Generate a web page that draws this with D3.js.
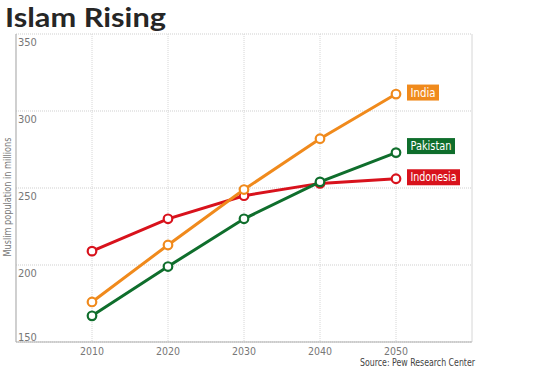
<!DOCTYPE html>
<html><head><meta charset="utf-8">
<script src="https://cdn.jsdelivr.net/npm/d3@7"></script>
<style>body{margin:0;background:#fff}svg{display:block}</style>
</head><body>
<script>
const years = [2010, 2020, 2030, 2040, 2050];
const india = [176, 213, 249, 282, 311];
const pakistan = [167, 199, 230, 254, 273];
const indonesia = [209, 230, 245, 253, 256];
const yTicks = [150, 200, 250, 300, 350];
const seriesNames = ["India", "Pakistan", "Indonesia"];
const seriesColors = ["#f08a1c", "#0f6e2c", "#d8121c"];

(function () {
const W = 553, H = 369;
const svg = d3.select("body").append("svg").attr("width", W).attr("height", H);
const pL = 16, pR = 472, pT = 34, pB = 342;
const x = d3.scaleLinear().domain([2000, 2060]).range([pL, pR]);
const y = d3.scaleLinear().domain([150, 350]).range([pB, pT]);
const font = "'DejaVu Sans Condensed','DejaVu Sans',sans-serif";

svg.append("text").attr("x", 5).attr("y", 27).text("Islam Rising")
  .attr("textLength", 161).attr("lengthAdjust", "spacingAndGlyphs")
  .attr("font-family", "Lato,sans-serif").attr("font-weight", 700)
  .attr("font-size", 27).attr("fill", "#262626");

// grid
const g = svg.append("g");
g.selectAll(".hg").data(yTicks).enter().append("line")
  .attr("x1", pL).attr("x2", pR).attr("y1", d => y(d)).attr("y2", d => y(d))
  .attr("stroke", "#cfcfcf").attr("stroke-dasharray", "1,1");
g.selectAll(".vg").data(years.concat([2060])).enter().append("line")
  .attr("x1", d => x(d)).attr("x2", d => x(d)).attr("y1", pT).attr("y2", pB)
  .attr("stroke", "#d6d6d6").attr("stroke-dasharray", d => d === 2060 ? null : "1,1");
g.append("line").attr("x1", pL).attr("x2", pL).attr("y1", pT).attr("y2", pB).attr("stroke", "#b0b0b0").attr("stroke-width", 1.2);
g.append("line").attr("x1", pL).attr("x2", pR).attr("y1", pB).attr("y2", pB).attr("stroke", "#b0b0b0").attr("stroke-width", 1.2);

// y tick labels
svg.selectAll(".yt").data(yTicks).enter().append("text")
  .attr("x", pL + 2).attr("y", d => d === 150 ? pB - 1 : y(d) + 12)
  .text(d => d).attr("font-family", font).attr("font-size", 11).attr("fill", "#777");

// x tick labels
svg.selectAll(".xt").data(years).enter().append("text")
  .attr("x", d => x(d)).attr("y", 355).attr("text-anchor", "middle")
  .text(d => d).attr("font-family", font).attr("font-size", 10.5).attr("fill", "#777");

svg.append("text").attr("transform", `translate(11,197) rotate(-90)`)
  .attr("text-anchor", "middle").text("Muslim population in millions")
  .attr("textLength", 119).attr("lengthAdjust", "spacingAndGlyphs")
  .attr("font-family", font).attr("font-size", 10.5).attr("fill", "#777");

svg.append("text").attr("x", 475).attr("y", 366).attr("text-anchor", "end")
  .text("Source: Pew Research Center")
  .attr("textLength", 115).attr("lengthAdjust", "spacingAndGlyphs")
  .attr("font-family", font).attr("font-size", 10.5).attr("fill", "#444");

// series
const data = [india, pakistan, indonesia];
const line = d3.line().x((d, i) => x(years[i])).y(d => y(d));
const order = [2, 0, 1];
order.forEach(k => {
  svg.append("path").datum(data[k]).attr("d", line).attr("fill", "none")
    .attr("stroke", seriesColors[k]).attr("stroke-width", 3);
  svg.selectAll(null).data(data[k]).enter().append("circle")
    .attr("cx", (d, i) => x(years[i])).attr("cy", d => y(d)).attr("r", 4.3)
    .attr("fill", "#fff").attr("stroke", seriesColors[k]).attr("stroke-width", 2.2);
});

// labels
const labelShift = [-1.5, -6.5, -1.5];
const labelW = [32, 48, 53];
seriesNames.forEach((n, k) => {
  const cy = y(data[k][4]) + labelShift[k];
  const lg = svg.append("g");
  lg.append("rect").attr("x", 407).attr("y", cy - 8)
    .attr("width", labelW[k]).attr("height", 16).attr("fill", seriesColors[k]);
  lg.append("text").attr("x", 407 + labelW[k] / 2).attr("y", cy + 4).text(n)
    .attr("text-anchor", "middle")
    .attr("textLength", labelW[k] - 7).attr("lengthAdjust", "spacingAndGlyphs")
    .attr("font-family", font).attr("font-size", 11.5).attr("fill", "#fff");
});
})();
</script>
</body></html>
